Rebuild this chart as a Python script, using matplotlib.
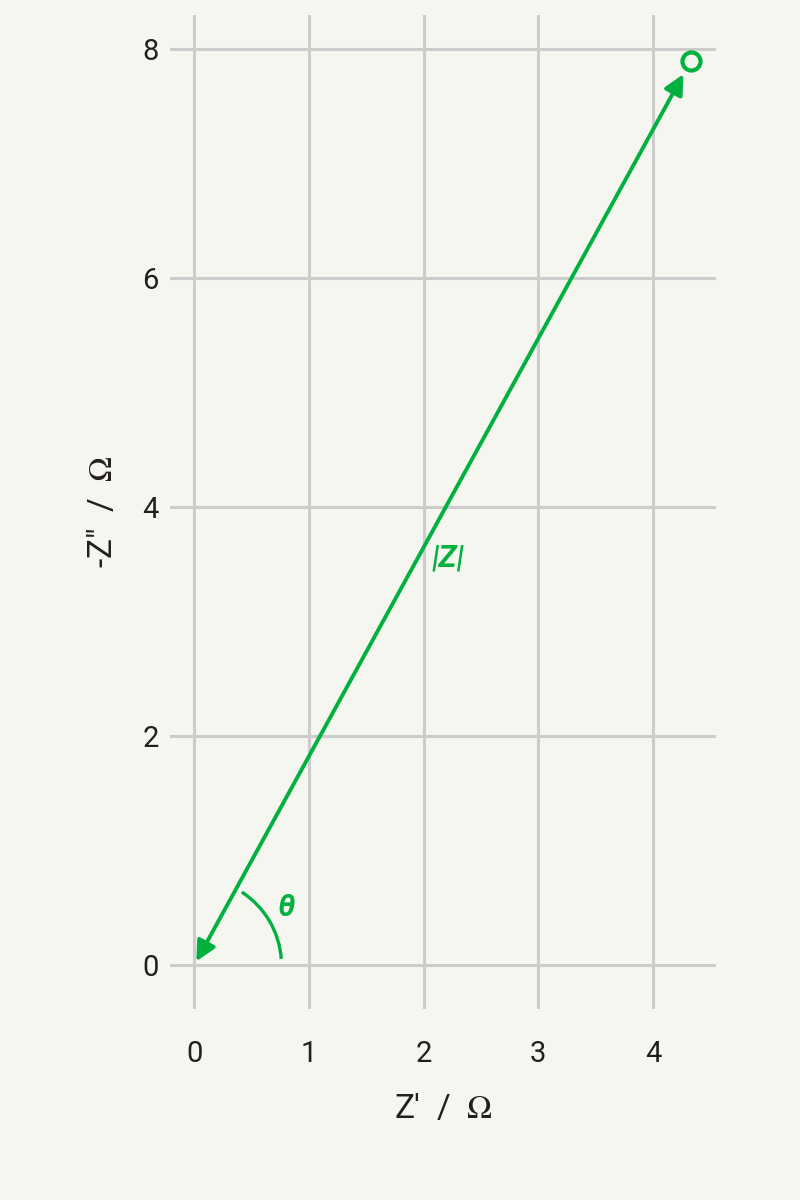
import matplotlib
matplotlib.use("Agg")
import matplotlib.pyplot as plt
from matplotlib.patches import Arc

# Data
z_real = [4.33]
z_imag = [7.90]
x_ticks = [0, 1, 2, 3, 4]
y_ticks = [0, 2, 4, 6, 8]
theta_arc_radius = 0.76
theta_arc_angles = [4, 57]
label_mag = "|Z|"
label_theta = "θ"
label_mag_pos = [2.21, 3.56]
label_theta_pos = [0.80, 0.50]

GREEN = "#00b13f"
TEXT = "#231f20"
GRID = "#cccccc"
BG = "#f6f6f1"

plt.rcParams['font.family'] = ['Roboto', 'DejaVu Sans']
plt.rcParams['mathtext.fontset'] = 'stix'

fig = plt.figure(figsize=(8, 12), dpi=100, facecolor=BG)
ax = fig.add_axes([0.2125, 0.1592, 0.895 - 0.2125, 0.9875 - 0.1592])
ax.set_facecolor(BG)

ax.set_xlim(-0.212, 4.55)
ax.set_ylim(-0.384, 8.30)
ax.set_xticks(x_ticks)
ax.set_yticks(y_ticks)
ax.grid(True, color=GRID, linewidth=2.2)
ax.set_axisbelow(True)
for s in ax.spines.values():
    s.set_visible(False)
ax.tick_params(axis='both', length=0, labelsize=21, labelcolor=TEXT)
ax.tick_params(axis='x', pad=22)
ax.tick_params(axis='y', pad=8)

ax.set_xlabel("Z'  /  $\\Omega$", fontsize=24, color=TEXT, labelpad=18)
ax.set_ylabel('-Z"  /  $\\Omega$', fontsize=24, color=TEXT, labelpad=17)

# vector arrow
ax.annotate("", xy=(z_real[0], z_imag[0]), xytext=(0, 0),
            arrowprops=dict(arrowstyle='<|-|>', color=GREEN, lw=2.8,
                            shrinkA=3, shrinkB=11, mutation_scale=30))
ax.plot(z_real, z_imag, 'o', ms=13, mfc='none', mec=GREEN, mew=3)

arc = Arc((0, 0), 2 * theta_arc_radius, 2 * theta_arc_radius,
          theta1=theta_arc_angles[0], theta2=theta_arc_angles[1],
          color=GREEN, lw=2.4)
ax.add_patch(arc)

ax.text(label_mag_pos[0], label_mag_pos[1], label_mag, color=GREEN,
        fontsize=22, fontweight='bold', fontstyle='italic',
        ha='center', va='center')
ax.text(label_theta_pos[0], label_theta_pos[1], label_theta, color=GREEN,
        fontsize=22, fontweight='bold', fontstyle='italic',
        ha='center', va='center')

fig.savefig("out.png", dpi=100, facecolor=BG)
